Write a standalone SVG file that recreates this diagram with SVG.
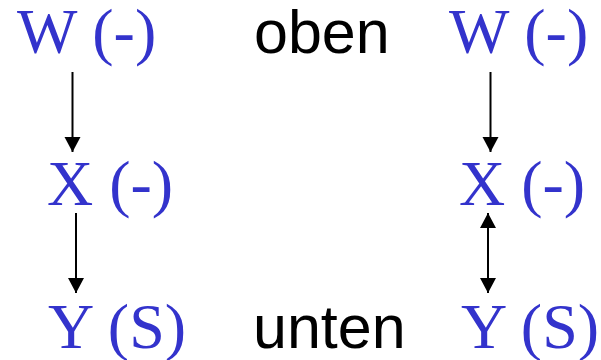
<svg xmlns="http://www.w3.org/2000/svg" width="601" height="360" viewBox="0 0 601 360">
<style>
.n{font-family:"Liberation Serif","Times New Roman",serif;font-size:64px;fill:#3333CC}
.l{font-family:"Liberation Sans",Arial,sans-serif;font-size:61px;fill:#000}
.c{stroke:#000;stroke-width:2;fill:none}
</style>
<defs>
<marker id="ah" markerUnits="userSpaceOnUse" markerWidth="18" markerHeight="18" refX="15" refY="8" orient="auto-start-reverse">
<path d="M0,0 L15,8 L0,16 Z" fill="#000"/>
</marker>
</defs>
<rect width="601" height="360" fill="#fff"/>
<g id="W1"><text class="n" x="17" y="53">W (-)</text></g>
<g id="X1"><text class="n" x="47" y="205">X (-)</text></g>
<g id="Y1"><text class="n" x="48" y="348">Y (S)</text></g>
<g id="W2"><text class="n" x="449" y="53">W (-)</text></g>
<g id="X2"><text class="n" x="459" y="205">X (-)</text></g>
<g id="Y2"><text class="n" x="461" y="348">Y (S)</text></g>
<g id="oben"><text class="l" x="254" y="53">oben</text></g>
<g id="unten"><text class="l" x="253" y="348">unten</text></g>
<g id="connectors">
<line class="c" x1="72.5" y1="72" x2="72.5" y2="152" marker-end="url(#ah)"/>
<line class="c" x1="76" y1="213" x2="76" y2="293" marker-end="url(#ah)"/>
<line class="c" x1="490.5" y1="72" x2="490.5" y2="152" marker-end="url(#ah)"/>
<line class="c" x1="488" y1="213" x2="488" y2="293" marker-start="url(#ah)" marker-end="url(#ah)"/>
</g>
</svg>
